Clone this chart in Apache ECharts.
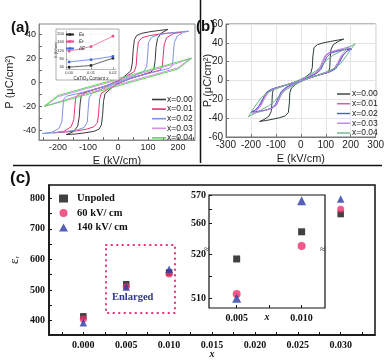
<!DOCTYPE html>
<html>
<head>
<meta charset="utf-8">
<script src="https://cdn.jsdelivr.net/npm/echarts@6/dist/echarts.min.js"></script>
<style>
  html, body { margin: 0; padding: 0; background: #fff; }
  #chart { width: 387px; height: 360px; }
</style>
</head>
<body>
<div id="chart"></div>
<script>
// panel (a): P-E loops, [E kV/cm, P uC/cm2]
const loopA_000 = [[167,44],[140,43.2],[110,42.2],[80,40.8],[63,39],[55,35.5],[51,27],[48,16],[43,9.5],[20,4.5],[0,1],[-40,-3],[-80,-6],[-110,-8.5],[-122,-11],[-126,-18],[-129,-29],[-134,-36.5],[-148,-41],[-172,-43.5],
  [-140,-43],[-110,-42],[-80,-40.8],[-63,-39],[-55,-35.5],[-51,-27],[-48,-16],[-43,-9.5],[-20,-4.5],[0,-1],[40,3],[80,6],[110,8.5],[120,11],[124,18],[127,29],[132,36.5],[145,41],[167,44]];
const loopA_001 = [[212,41.6],[180,41.2],[140,40.2],[105,38.8],[80,37],[68,33.5],[64,25],[61,14],[55,9],[25,4.5],[0,1],[-50,-4],[-100,-7.5],[-132,-10],[-141,-13],[-144,-22],[-147,-31],[-156,-37],[-180,-40.8],[-215,-42],
  [-180,-41.5],[-140,-40.5],[-105,-39],[-80,-37],[-68,-33.5],[-64,-25],[-61,-14],[-55,-9],[-25,-4.5],[0,-1],[50,4],[100,7.5],[140,10],[148,13],[151,22],[154,31],[162,37],[185,40.6],[212,41.6]];
const loopA_002 = [[236,42.6],[210,42],[170,41],[135,39.5],[112,37.5],[102,33],[99,22],[96,13],[86,9],[40,4],[0,0.5],[-60,-4.5],[-120,-8.5],[-170,-11.5],[-181,-14],[-184,-24],[-187,-33],[-197,-38.5],[-220,-41.5],[-252,-42.6],
  [-220,-42.2],[-175,-41],[-135,-39.5],[-112,-37.5],[-102,-33],[-99,-22],[-96,-13],[-86,-9],[-40,-4],[0,-0.5],[60,4.5],[120,8.5],[170,11.5],[182,14],[185,24],[188,33],[198,38.5],[218,41.5],[236,42.6]];
const loopA_003 = [[243,20.3],[200,16],[150,12.5],[100,9],[50,5.5],[0,2],[-50,-1.5],[-100,-5],[-150,-8.5],[-200,-12],[-243,-20],
  [-200,-16.5],[-150,-12.5],[-100,-9],[-50,-5.5],[0,-2],[50,1.5],[100,5],[150,8.5],[200,12],[243,20.3]];
const loopA_004 = [[246,20],[200,17],[150,13.5],[100,10],[50,6.5],[0,3],[-50,-0.5],[-100,-4],[-150,-7.5],[-200,-11],[-246,-20],
  [-200,-17],[-150,-13.5],[-100,-10],[-50,-6.5],[0,-3],[50,0.5],[100,4],[150,7.5],[200,11],[246,20]];

// panel (b)
const loopB_000 = [[172,44],[150,43],[120,41.5],[90,40],[66,38],[53,35],[48,25],[46,14],[40,8],[20,4],[0,0.5],[-50,-4],[-90,-7],[-110,-9],[-114,-14],[-116,-25],[-119,-33],[-128,-38],[-148,-41.5],[-165,-43.5],
  [-140,-42.5],[-110,-41],[-85,-39.5],[-62,-37.5],[-50,-34],[-46,-24],[-44,-13],[-38,-8],[-20,-4],[0,-0.5],[50,4],[90,7],[112,9],[116,14],[118,25],[121,33],[130,38],[150,41.5],[172,44]];
const loopB_001 = [[200,34],[170,33],[140,31.5],[115,29.5],[100,26.5],[90,20],[80,13],[65,8.5],[40,5],[0,0.5],[-40,-3],[-80,-6.5],[-110,-8.5],[-130,-11],[-145,-17],[-160,-25],[-175,-30],[-192,-33],
  [-165,-32.5],[-135,-31],[-112,-29],[-98,-26],[-88,-20],[-78,-13],[-63,-8.5],[-40,-5],[0,-0.5],[40,3],[80,6.5],[110,8.5],[130,11],[147,17],[163,25],[180,30],[200,34]];
const loopB_002 = [[205,33.5],[175,32.5],[145,31],[120,29],[104,25],[92,18],[80,11.5],[60,7],[30,3.5],[0,0],[-40,-3.5],[-80,-6.5],[-115,-9],[-138,-12.5],[-152,-19],[-168,-27],[-185,-32],[-200,-33.5],
  [-170,-33],[-140,-31.5],[-116,-29],[-101,-25],[-90,-18],[-78,-11.5],[-58,-7],[-30,-3.5],[0,0],[40,3.5],[80,6.5],[115,9],[140,12.5],[155,19],[170,27],[188,32],[205,33.5]];
const loopB_003 = [[195,36],[170,34],[140,32],[115,30],[98,27],[86,20],[75,13],[58,8],[30,4],[0,0.5],[-40,-3],[-80,-6.5],[-110,-9],[-130,-12.5],[-145,-19],[-160,-27],[-178,-32],[-195,-35],
  [-168,-33.5],[-140,-31.5],[-114,-29.5],[-97,-26],[-86,-19.5],[-74,-12.5],[-56,-8],[-30,-4],[0,-0.5],[40,3],[80,6.5],[110,9],[132,12.5],[148,19],[163,27],[180,32],[195,36]];
const loopB_004 = [[218,39],[190,35],[160,31],[130,27],[105,22],[85,16],[62,10.5],[30,5],[0,1.5],[-30,-2.5],[-65,-5.5],[-100,-9],[-130,-12.5],[-158,-18],[-180,-26],[-198,-33],[-210,-38.5],
  [-185,-35],[-158,-31],[-130,-27],[-105,-22],[-85,-16],[-62,-10.5],[-30,-5],[0,-1.5],[30,2.5],[65,5.5],[100,9],[130,12.5],[160,18],[182,26],[200,33],[218,39]];

// inset of (a)
const insetX = [0.00, 0.01, 0.02];
const insetEA = [40, 48, 83];
const insetEF = [117, 139, 189];
const insetDE = [65, 76, 92];

// panel (c)
const cX = [0.000, 0.005, 0.010, 0.030];
const cUnpoled = [414, 519, 557, 748];
const c60 = [405, 511, 552, 764];
const c140 = [393, 510, 568, 797];

const labelsA = ['x=0.00', 'x=0.01', 'x=0.02', 'x=0.03', 'x=0.04'];
const colorsA = ['#3a3a3a', '#e8336c', '#7c93e0', '#d68fe6', '#5fd35f'];
const colorsB = ['#2e3a3a', '#c957b0', '#4b5bd6', '#b985e8', '#6bb58a'];
const loopsA = [loopA_000, loopA_001, loopA_002, loopA_003, loopA_004];
const loopsB = [loopB_000, loopB_001, loopB_002, loopB_003, loopB_004];

const SANS = 'Liberation Sans';
const SERIF = 'Liberation Serif';

const chart = echarts.init(document.getElementById('chart'));

function pairs(xs, ys, lo, hi) {
  const out = [];
  xs.forEach((x, i) => {
    if (lo === undefined || (ys[i] >= lo && ys[i] <= hi)) out.push([x, ys[i]]);
  });
  return out;
}

const series = [];
loopsA.forEach((d, i) => {
  series.push({ name: 'a|' + labelsA[i], type: 'line', xAxisIndex: 0, yAxisIndex: 0, data: d,
    symbol: 'none', lineStyle: { width: 1, color: colorsA[i] }, itemStyle: { color: colorsA[i] } });
});
loopsB.forEach((d, i) => {
  series.push({ name: 'b|' + labelsA[i], type: 'line', xAxisIndex: 2, yAxisIndex: 2, data: d,
    symbol: 'none', lineStyle: { width: 1, color: colorsB[i] }, itemStyle: { color: colorsB[i] } });
});

// inset (a)
const insetSeries = [['EA', insetEA, '#222'], ['EF', insetEF, '#ee4d8a'], ['DE', insetDE, '#4466dd']];
insetSeries.forEach(s => {
  series.push({ name: s[0], type: 'line', xAxisIndex: 1, yAxisIndex: 1, z: 10,
    data: pairs(insetX, s[1]), symbol: 'rect', symbolSize: 2.5,
    lineStyle: { width: 0.7, color: s[2] }, itemStyle: { color: s[2] } });
});

// panel (c)
const cSets = [
  ['Unpoled', cUnpoled, 'rect', '#111', 6.5, 7],
  ['60 kV/ cm', c60, 'circle', '#f0306a', 7, 8],
  ['140 kV/ cm', c140, 'triangle', '#2b3aa8', 7.5, 9]
];
cSets.forEach(s => {
  series.push({ name: s[0], type: 'scatter', xAxisIndex: 3, yAxisIndex: 3, data: pairs(cX, s[1]),
    symbol: s[2], symbolSize: s[4], itemStyle: { color: s[3] } });
  series.push({ name: s[0], type: 'scatter', xAxisIndex: 4, yAxisIndex: 4, z: 10,
    data: pairs(cX.slice(1, 3), s[1].slice(1, 3), 550.5, 570),
    symbol: s[2], symbolSize: s[5], itemStyle: { color: s[3] } });
  series.push({ name: s[0], type: 'scatter', xAxisIndex: 5, yAxisIndex: 5, z: 10,
    data: pairs(cX.slice(1, 3), s[1].slice(1, 3), 507.8, 521),
    symbol: s[2], symbolSize: s[5], itemStyle: { color: s[3] } });
});

const tickA = { inside: true, length: 3, lineStyle: { color: '#666' } };
const lblA = { fontFamily: SANS, fontSize: 9, color: '#222', margin: 3 };
const boldSerif = { fontFamily: SERIF, fontWeight: 'bold', fontSize: 10, color: '#111' };

const option = {
  animation: false,
  grid: [
    { left: 39, top: 24, width: 156, height: 116, show: true, borderColor: '#888', borderWidth: 1 },
    { left: 66, top: 31, width: 50, height: 38, z: 10 },
    { left: 226, top: 24, width: 153, height: 113, show: true, borderColor: '#777', borderWidth: 1 },
    { left: 37, top: 185, width: 338, height: 150, show: true, borderColor: '#111', borderWidth: 1.5 },
    { left: 209, top: 195, width: 116, height: 55.2, z: 10 },
    { left: 209, top: 250.2, width: 116, height: 57.8, z: 10 }
  ],
  xAxis: [
    { gridIndex: 0, type: 'value', min: -263, max: 257,
      axisLine: { onZero: false, lineStyle: { color: '#888' } },
      axisTick: Object.assign({ customValues: [-250, -200, -150, -100, -50, 0, 50, 100, 150, 200, 250] }, tickA),
      axisLabel: Object.assign({ customValues: [-200, -100, 0, 100, 200] }, lblA),
      splitLine: { show: false },
      name: 'E (kV/cm)', nameLocation: 'middle', nameGap: 15, nameMoveOverlap: false,
      nameTextStyle: { fontFamily: SANS, fontSize: 11, color: '#222' } },
    { gridIndex: 1, type: 'value', min: -0.0014, max: 0.0214, z: 10,
      axisLine: { onZero: false, lineStyle: { color: '#888', width: 0.6 } },
      axisTick: { customValues: [0, 0.01, 0.02], inside: true, length: 1.5 },
      axisLabel: { customValues: [0, 0.01, 0.02], formatter: v => v.toFixed(2), fontSize: 4, margin: 2, color: '#333', fontFamily: SANS },
      splitLine: { show: true, lineStyle: { color: '#eee', width: 0.5 } },
      name: 'CaTiO₃ Content x', nameLocation: 'middle', nameGap: 7, nameMoveOverlap: false,
      nameTextStyle: { fontSize: 4.5, color: '#333', fontFamily: SANS } },
    { gridIndex: 2, type: 'value', min: -300, max: 300, interval: 100,
      axisLine: { onZero: false, lineStyle: { color: '#777' } },
      axisTick: { inside: true, length: 3, lineStyle: { color: '#777' } },
      axisLabel: { fontFamily: SANS, fontSize: 10, color: '#222', margin: 3 },
      splitLine: { show: true, lineStyle: { color: '#e4e4e4' } },
      name: 'E (kV/cm)', nameLocation: 'middle', nameGap: 16, nameMoveOverlap: false,
      nameTextStyle: { fontFamily: SANS, fontSize: 11, color: '#222' } },
    { gridIndex: 3, type: 'value', min: -0.004, max: 0.034,
      axisLine: { onZero: false, lineStyle: { color: '#111', width: 1.5 } },
      axisTick: { inside: true, length: 3, customValues: [-0.0025, 0, 0.0025, 0.005, 0.0075, 0.01, 0.0125, 0.015, 0.0175, 0.02, 0.0225, 0.025, 0.0275, 0.03, 0.0325], lineStyle: { color: '#111' } },
      axisLabel: Object.assign({ customValues: [0, 0.005, 0.01, 0.015, 0.02, 0.025, 0.03], formatter: v => v.toFixed(3), margin: 5 }, boldSerif),
      splitLine: { show: false },
      name: 'x', nameLocation: 'middle', nameGap: 14, nameMoveOverlap: false,
      nameTextStyle: { fontFamily: SERIF, fontStyle: 'italic', fontWeight: 'bold', fontSize: 10, color: '#111' } },
    { gridIndex: 4, type: 'value', min: 0.00287, max: 0.0118, show: false },
    { gridIndex: 5, type: 'value', min: 0.00287, max: 0.0118, z: 10,
      axisLine: { show: false, onZero: false },
      axisTick: { inside: true, length: 3, customValues: [0.005, 0.0075, 0.01], lineStyle: { color: '#111' } },
      axisLabel: Object.assign({ customValues: [0.005, 0.01], formatter: v => v.toFixed(3), margin: 5 }, boldSerif),
      splitLine: { show: false },
      name: 'x', nameLocation: 'middle', nameGap: 4, nameMoveOverlap: false,
      nameTextStyle: { fontFamily: SERIF, fontStyle: 'italic', fontWeight: 'bold', fontSize: 10, color: '#111' } }
  ],
  yAxis: [
    { gridIndex: 0, type: 'value', min: -48, max: 48.5,
      axisLine: { onZero: false, lineStyle: { color: '#888' } },
      axisTick: Object.assign({ customValues: [-40, -30, -20, -10, 0, 10, 20, 30, 40] }, tickA),
      axisLabel: Object.assign({ customValues: [-40, -20, 0, 20, 40] }, lblA),
      splitLine: { show: false },
      name: 'P (μC/cm²)', nameLocation: 'middle', nameGap: 24, nameMoveOverlap: false,
      nameTextStyle: { fontFamily: SANS, fontSize: 11, color: '#222' } },
    { gridIndex: 1, type: 'value', min: 31, max: 214, z: 10,
      axisLine: { show: true, onZero: false, lineStyle: { color: '#888', width: 0.6 } },
      axisTick: { customValues: [40, 80, 120, 160, 200], inside: true, length: 1.5 },
      axisLabel: { customValues: [40, 80, 120, 160, 200], fontSize: 4, margin: 2, color: '#333', fontFamily: SANS },
      splitLine: { show: true, lineStyle: { color: '#eee', width: 0.5 } },
      name: 'E (kV/cm)', nameLocation: 'middle', nameGap: 8, nameMoveOverlap: false,
      nameTextStyle: { fontSize: 3.5, color: '#333', fontFamily: SANS } },
    { gridIndex: 2, type: 'value', min: -60, max: 60, interval: 20,
      axisLine: { onZero: false, lineStyle: { color: '#777' } },
      axisTick: { inside: true, length: 3, lineStyle: { color: '#777' } },
      axisLabel: { fontFamily: SANS, fontSize: 10, color: '#222', margin: 3 },
      splitLine: { show: true, lineStyle: { color: '#e4e4e4' } },
      name: 'P (μC/cm²)', nameLocation: 'middle', nameGap: 13, nameMoveOverlap: false,
      nameTextStyle: { fontFamily: SANS, fontSize: 11, color: '#222' } },
    { gridIndex: 3, type: 'value', min: 353, max: 843,
      axisLine: { onZero: false, lineStyle: { color: '#111', width: 1.5 } },
      axisTick: { inside: true, length: 3, customValues: [400, 450, 500, 550, 600, 650, 700, 750, 800], lineStyle: { color: '#111' } },
      axisLabel: Object.assign({ customValues: [400, 500, 600, 700, 800], margin: 4 }, boldSerif),
      splitLine: { show: false },
      name: '{e|ε}{r|r}', nameLocation: 'middle', nameGap: 28, nameMoveOverlap: false,
      nameTextStyle: { rich: { e: { fontFamily: SERIF, fontSize: 13, color: '#111' }, r: { fontFamily: SERIF, fontSize: 7, color: '#111', padding: [6, 0, 0, 0] } } } },
    { gridIndex: 4, type: 'value', min: 550.5, max: 570, z: 10,
      axisLine: { show: false, onZero: false },
      axisTick: { inside: true, length: 3, customValues: [560, 565, 570], lineStyle: { color: '#111' } },
      axisLabel: Object.assign({ customValues: [560, 570], margin: 3 }, boldSerif),
      splitLine: { show: false } },
    { gridIndex: 5, type: 'value', min: 507.8, max: 521, z: 10,
      axisLine: { show: false, onZero: false },
      axisTick: { inside: true, length: 3, customValues: [510, 515, 520], lineStyle: { color: '#111' } },
      axisLabel: Object.assign({ customValues: [510, 520], margin: 3 }, boldSerif),
      splitLine: { show: false } }
  ],
  legend: [
    { data: labelsA.map(l => 'a|' + l), orient: 'vertical', left: 152, top: 95, padding: 0, icon: 'rect',
      itemWidth: 14, itemHeight: 1.6, itemGap: 0.6, formatter: n => n.split('|')[1],
      textStyle: { fontFamily: SANS, fontSize: 8.5, color: '#222', lineHeight: 8, padding: [0, 0, 0, -4] } },
    { data: labelsA.map(l => 'b|' + l), orient: 'vertical', left: 337, top: 89.5, padding: 0, icon: 'rect',
      itemWidth: 13, itemHeight: 1.4, itemGap: 0.75, formatter: n => n.split('|')[1],
      textStyle: { fontFamily: SANS, fontSize: 8.5, color: '#222', lineHeight: 8, padding: [0, 0, 0, -3] } },
    { data: ['EA', 'EF', 'DE'], orient: 'vertical', left: 65, top: 32, padding: 0, z: 12,
      itemWidth: 8, itemHeight: 3, itemGap: 2,
      formatter: n => n === 'DE' ? '{i|ΔE}' : '{i|E}{s|' + n[1] + '}',
      textStyle: { fontSize: 4.5, color: '#333', rich: { i: { fontSize: 4.5, fontStyle: 'italic', fontFamily: SANS }, s: { fontSize: 3, fontFamily: SANS, padding: [2, 0, 0, 0] } } } },
    { data: ['Unpoled', '60 kV/ cm', '140 kV/ cm'], orient: 'vertical', left: 59, top: 193, padding: 0,
      itemWidth: 9, itemHeight: 8, itemGap: 3.5,
      textStyle: { fontFamily: SERIF, fontWeight: 'bold', fontSize: 10.5, color: '#111', padding: [0, 0, 0, 4] } }
  ],
  graphic: [
    { type: 'line', shape: { x1: 200.5, y1: 0, x2: 200.5, y2: 163 }, style: { stroke: '#111', lineWidth: 1.5 } },
    { type: 'line', shape: { x1: 13, y1: 165.5, x2: 382, y2: 165.5 }, style: { stroke: '#111', lineWidth: 1.5 } },
    { type: 'rect', z: 5, shape: { x: 56, y: 29, width: 63, height: 51 }, style: { fill: '#fff', stroke: '#999', lineWidth: 0.8 } },
    { type: 'rect', z: 5, shape: { x: 209, y: 195, width: 116, height: 113 }, style: { fill: '#fff', stroke: '#111', lineWidth: 1.2 } },
    { type: 'text', z: 12, left: 204, top: 245, style: { text: '≈', fontSize: 9, fill: '#111', fontFamily: SERIF } },
    { type: 'text', z: 12, left: 320, top: 245, style: { text: '≈', fontSize: 9, fill: '#111', fontFamily: SERIF } },
    { type: 'rect', shape: { x: 106, y: 245, width: 69, height: 68 },
      style: { fill: 'none', stroke: '#e8307a', lineWidth: 2, lineDash: [0.5, 5], lineCap: 'round' } },
    { type: 'text', left: 112, top: 292, style: { text: 'Enlarged', fontFamily: SERIF, fontWeight: 'bold', fontSize: 10.5, fill: '#2a3590' } },
    { type: 'text', left: 11, top: 20, style: { text: '(a)', fontFamily: SANS, fontWeight: 'bold', fontSize: 15, fill: '#111' } },
    { type: 'text', left: 196, top: 19, style: { text: '(b)', fontFamily: SANS, fontWeight: 'bold', fontSize: 15, fill: '#111' } },
    { type: 'text', left: 10, top: 170, style: { text: '(c)', fontFamily: SANS, fontWeight: 'bold', fontSize: 17, fill: '#111' } }
  ],
  series: series
};

chart.setOption(option);
</script>
</body>
</html>
